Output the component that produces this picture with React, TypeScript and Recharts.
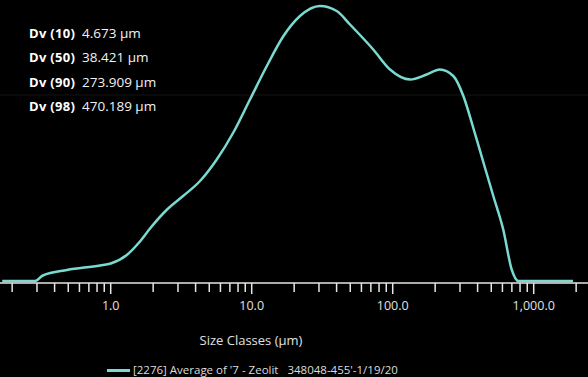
import React from 'react';
import { LineChart, Line, XAxis, YAxis, ReferenceLine } from 'recharts';

// Size classes (µm) and volume density (%)
const sizes = [0.17, 0.29, 0.33, 0.49, 0.84, 1.0, 1.3, 1.6, 1.9, 2.51, 3.26, 4.3, 5.65, 7.41, 9.72, 12.8, 16.8, 22.0, 30.5, 40.1, 49.8, 72.8, 95.7, 133, 174, 216, 269, 317, 373, 440, 517, 608, 698, 778, 1900];
const volume = [0, 0, 0.11, 0.22, 0.31, 0.35, 0.52, 0.78, 1.05, 1.43, 1.7, 2.0, 2.43, 2.97, 3.63, 4.3, 4.9, 5.3, 5.5, 5.4, 5.13, 4.63, 4.23, 4.03, 4.13, 4.23, 4.1, 3.7, 3.06, 2.37, 1.7, 1.03, 0.23, 0, 0];

const majorTicks = [1, 10, 100, 1000];
const majorLabels = ['1.0', '10.0', '100.0', '1,000.0'];
const allTicks = [0.2, 0.3, 0.4, 0.5, 0.6, 0.7, 0.8, 0.9, 1, 2, 3, 4, 5, 6, 7, 8, 9, 10, 20, 30, 40, 50, 60, 70, 80, 90, 100, 200, 300, 400, 500, 600, 700, 800, 900, 1000, 2000];

const dvLabels = ['Dv (10)', 'Dv (50)', 'Dv (90)', 'Dv (98)'];
const dvValues = ['4.673 µm', '38.421 µm', '273.909 µm', '470.189 µm'];

const seriesName = "[2276] Average of '7 - Zeolit   348048-455'-1/19/20";

const data = sizes.map((s, i) => ({ size: s, vol: volume[i] }));

const FONT = '"Open Sans", "Noto Sans", sans-serif';
const CYAN = '#7ad9d0';

const SizeTick = (props: any) => {
  const { x, y, payload } = props;
  const idx = majorTicks.indexOf(payload.value);
  const major = idx >= 0;
  return (
    <g>
      <line x1={x} y1={y} x2={x} y2={y + (major ? 11 : 9)} stroke="#e6e6e6" strokeWidth={1.5} />
      {major && (
        <text x={x} y={y + 27} textAnchor="middle" fill="#e0e0e0" fontSize={12.5} fontFamily={FONT}>
          {majorLabels[idx]}
        </text>
      )}
    </g>
  );
};

const App: React.FC = () => {
  return (
    <div style={{ position: 'fixed', left: 0, top: 0, width: 588, height: 377, background: '#000', overflow: 'hidden', fontFamily: FONT }}>
      <LineChart width={588} height={377} data={data} margin={{ top: 0, right: 0, left: 0, bottom: 0 }}>
        <XAxis
          dataKey="size"
          type="number"
          scale="log"
          domain={[0.164, 2427]}
          ticks={allTicks}
          interval={0}
          tickSize={0}
          tickMargin={0}
          tick={<SizeTick />}
          axisLine={{ stroke: '#e6e6e6', strokeWidth: 1.5 }}
          tickLine={false}
          height={94}
        />
        <YAxis hide domain={[-0.04, 5.62]} width={0} />
        <ReferenceLine y={3.72} stroke="#141414" strokeWidth={1} />
        <Line
          type="monotone"
          dataKey="vol"
          stroke={CYAN}
          strokeWidth={2.5}
          dot={false}
          activeDot={false}
          isAnimationActive={false}
        />
      </LineChart>

      {/* Dv percentiles */}
      {dvLabels.map((lab, i) => (
        <div key={lab} style={{ position: 'absolute', left: 29, top: 24 + i * 24.3, fontSize: 13, color: '#fff', whiteSpace: 'nowrap', lineHeight: '18px' }}>
          <span style={{ fontWeight: 700, display: 'inline-block', width: 53, letterSpacing: 0.3 }}>{lab}</span>
          <span style={{ fontSize: 13.5, color: '#f2f2f2' }}>{dvValues[i]}</span>
        </div>
      ))}

      {/* axis title */}
      <div style={{ position: 'absolute', left: 151, width: 200, top: 331, textAlign: 'center', fontSize: 13, color: '#e0e0e0', lineHeight: '18px' }}>
        Size Classes (µm)
      </div>

      {/* legend */}
      <div style={{ position: 'absolute', left: 107, top: 362, height: 16, display: 'flex', alignItems: 'center' }}>
        <div style={{ width: 23, height: 3, background: CYAN, marginRight: 3 }} />
        <div style={{ whiteSpace: 'pre', fontSize: 11.5, color: '#dcdcdc', lineHeight: '16px' }}>
          {seriesName}
        </div>
      </div>
    </div>
  );
};

export default App;
